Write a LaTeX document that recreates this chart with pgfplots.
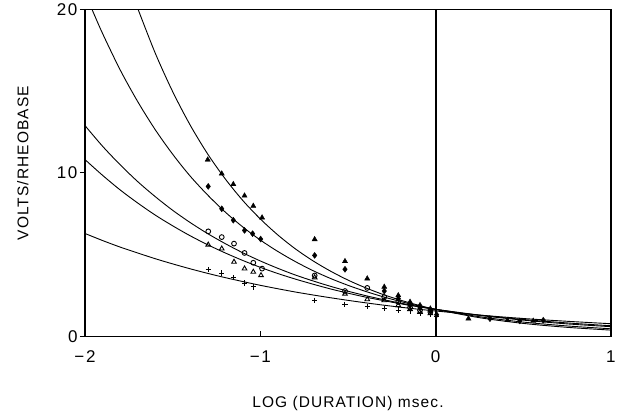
\documentclass[border=0pt]{standalone}
\usepackage{fontspec}
\setmainfont{Liberation Sans}
\newfontfamily\lblfont[LetterSpace=7]{Liberation Sans}
\newfontfamily\tckfont[LetterSpace=10]{Liberation Sans}
\usepackage{pgfplots}
\pgfplotsset{compat=1.18}
\begin{document}
\begin{tikzpicture}
\begin{axis}[
  name=main,
  scale only axis, width=526pt, height=327pt,
  xmin=-2, xmax=1, ymin=0, ymax=20,
  xtick={-2,-1,0,1}, xticklabels={−2,−1,0,1},
  ytick={0,10,20},
  tick pos=left, tick align=inside, major tick length=5pt,
  ytick style={xshift=-5pt},
  tick style={black, line width=1.2pt},
  axis line style={line width=1.6pt},
  /pgf/number format/assume math mode=true,
  ticklabel style={font=\tckfont\fontsize{17}{17}\selectfont},
  xticklabel style={yshift=-11pt},
  yticklabel style={xshift=-4pt},
  xlabel={LOG (DURATION) msec.},
  ylabel={VOLTS/RHEOBASE},
  xlabel style={at={(axis description cs:0.5,0)}, anchor=center, yshift=-67pt, font=\lblfont\fontsize{15.5}{15.5}\selectfont},
  ylabel style={at={(axis description cs:-0.118,0.53)}, anchor=center, font=\lblfont\fontsize{15.5}{15.5}\selectfont},
]
% vertical line at zero
\addplot[black, line width=1.8pt] coordinates {(0,0) (0,20)};

% fitted curves
\addplot[black, line width=0.9pt, smooth] coordinates {
  (-1.70,20.08) (-1.6,17.34) (-1.5,14.97) (-1.4,12.92) (-1.3,11.15) (-1.2,9.63)
  (-1.1,8.31) (-1.0,7.18) (-0.9,6.20) (-0.8,5.35) (-0.7,4.62) (-0.6,3.99)
  (-0.5,3.44) (-0.4,2.97) (-0.3,2.56) (-0.2,2.21) (-0.1,1.91) (0,1.65)
  (0.25,1.14) (0.5,0.79) (0.75,0.55) (1.0,0.38)};
\addplot[black, line width=0.9pt, smooth] coordinates {
  (-1.96,20.0) (-1.9,18.53) (-1.8,16.31) (-1.7,14.37) (-1.6,12.65) (-1.5,11.14)
  (-1.4,9.80) (-1.3,8.64) (-1.2,7.60) (-1.1,6.69) (-1.0,5.89) (-0.9,5.19)
  (-0.8,4.57) (-0.7,4.02) (-0.6,3.54) (-0.5,3.12) (-0.4,2.75) (-0.3,2.42)
  (-0.2,2.13) (-0.1,1.87) (0,1.65) (0.25,1.20) (0.5,0.87) (0.75,0.635) (1,0.46)};
\addplot[black, line width=0.9pt, smooth] coordinates {
  (-2,12.89) (-1.9,11.63) (-1.8,10.50) (-1.7,9.47) (-1.6,8.55) (-1.5,7.71)
  (-1.4,6.96) (-1.3,6.28) (-1.2,5.67) (-1.1,5.11) (-1.0,4.61) (-0.9,4.16)
  (-0.8,3.75) (-0.7,3.39) (-0.6,3.06) (-0.5,2.76) (-0.4,2.49) (-0.3,2.25)
  (-0.2,2.03) (-0.1,1.83) (0,1.65) (0.25,1.28) (0.5,0.99) (0.75,0.76) (1,0.59)};
\addplot[black, line width=0.9pt, smooth] coordinates {
  (-2,10.81) (-1.9,9.85) (-1.8,8.96) (-1.7,8.16) (-1.6,7.42) (-1.5,6.76)
  (-1.4,6.15) (-1.3,5.60) (-1.2,5.10) (-1.1,4.64) (-1.0,4.22) (-0.9,3.84)
  (-0.8,3.50) (-0.7,3.19) (-0.6,2.90) (-0.5,2.64) (-0.4,2.40) (-0.3,2.19)
  (-0.2,1.99) (-0.1,1.81) (0,1.65) (0.25,1.30) (0.5,1.03) (0.75,0.82) (1,0.645)};
\addplot[black, line width=0.9pt, smooth] coordinates {
  (-2,6.29) (-1.9,5.86) (-1.8,5.46) (-1.7,5.10) (-1.6,4.75) (-1.5,4.43)
  (-1.4,4.13) (-1.3,3.85) (-1.2,3.59) (-1.1,3.35) (-1.0,3.12) (-0.9,2.91)
  (-0.8,2.71) (-0.7,2.53) (-0.6,2.36) (-0.5,2.20) (-0.4,2.05) (-0.3,1.91)
  (-0.2,1.78) (-0.1,1.66) (0,1.55) (0.25,1.30) (0.5,1.09) (0.75,0.92) (1,0.77)};

% measured points
\addplot[only marks, mark=triangle*, mark size=3pt, black] coordinates {
  (-1.30,10.8) (-1.22,9.95) (-1.154,9.3) (-1.09,8.6) (-1.04,7.97) (-0.99,7.26)
  (-0.69,5.93) (-0.517,4.59) (-0.39,3.53) (-0.293,3.02) (-0.213,2.5) (-0.146,2.1)
  (-0.089,1.9) (-0.03,1.69) (0.187,1.08) (0.41,0.98) (0.557,0.94)};
\addplot[only marks, mark=diamond*, mark size=3pt, black] coordinates {
  (-1.297,9.17) (-1.22,7.8) (-1.154,7.1) (-1.09,6.48) (-1.044,6.28) (-0.998,5.95)
  (-0.69,4.95) (-0.517,4.1) (-0.293,2.77) (-0.213,2.3) (-0.146,1.9) (-0.089,1.75)
  (-0.03,1.55) (0.006,1.32) (0.31,1.08) (0.48,0.94) (0.614,0.98)};
\addplot[only marks, mark=o, mark size=2.4pt, black, line width=0.9pt] coordinates {
  (-1.297,6.42) (-1.22,6.07) (-1.15,5.67) (-1.09,5.1) (-1.04,4.5) (-0.99,4.14)
  (-0.69,3.72) (-0.517,2.77) (-0.39,2.96) (-0.293,2.4) (-0.213,2.1) (-0.146,1.77)
  (-0.089,1.59) (-0.03,1.49)};
\addplot[only marks, mark=triangle, mark size=2.7pt, black, line width=0.9pt] coordinates {
  (-1.297,5.6) (-1.22,5.36) (-1.15,4.55) (-1.09,4.14) (-1.04,3.94) (-0.996,3.73)
  (-0.69,3.6) (-0.517,2.6) (-0.39,2.26) (-0.293,2.2) (-0.213,1.9) (-0.146,1.65)
  (-0.089,1.5) (-0.03,1.4)};
\addplot[only marks, mark=+, mark size=2.7pt, black, line width=1pt] coordinates {
  (-1.297,4.08) (-1.22,3.87) (-1.154,3.59) (-1.09,3.26) (-1.04,3.02)
  (-0.69,2.2) (-0.517,1.96) (-0.39,1.83) (-0.293,1.69) (-0.213,1.6) (-0.146,1.55)
  (-0.089,1.4) (-0.03,1.35) (0.006,1.2)};
\end{axis}
\path (main.south west) ++(-85pt,-77pt) rectangle ++(619pt,413pt);
\end{tikzpicture}
\end{document}
